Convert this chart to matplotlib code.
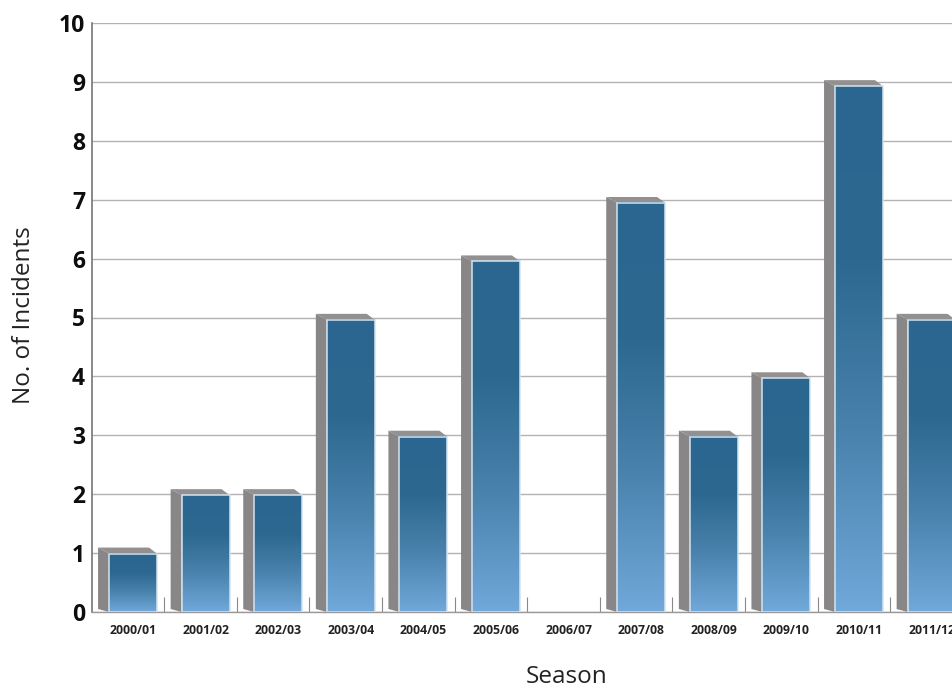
#!/usr/bin/env python3
"""Incidents per season, 3D style bars."""
import matplotlib
matplotlib.use("Agg")
import matplotlib.pyplot as plt
import numpy as np
from matplotlib.colors import LinearSegmentedColormap
from matplotlib.patches import Polygon

seasons = ["2000/01", "2001/02", "2002/03", "2003/04", "2004/05", "2005/06",
           "2006/07", "2007/08", "2008/09", "2009/10", "2010/11", "2011/12"]
incidents = [1, 2, 2, 5, 3, 6, 0, 7, 3, 4, 9, 5]
y_ticks = list(range(11))

plt.rcParams["font.family"] = ["Open Sans", "DejaVu Sans"]

W, H = 953, 689
fig = plt.figure(figsize=(W / 100, H / 100), dpi=100)
ax = fig.add_axes([92 / W, 1 - 612 / H, (W - 92) / W, (612 - 23) / H])

# pixels per data unit, used for the fake depth
px_x = 72.6
px_y = 58.9
dx = 11 / px_x
dy_top = 6 / px_y
dy_bot = 3 / px_y
# the bars in the original sit a little under their gridlines
bar_scale = 0.992

cmap = LinearSegmentedColormap.from_list(
    "bar", ["#2a668f", "#2c6890", "#4a83ad", "#70a9da"])
grad = np.linspace(0, 1, 256).reshape(-1, 1)

x = np.arange(len(seasons))
heights = [v * bar_scale for v in incidents]
bars = ax.bar(x, heights, width=0.66, facecolor="none", edgecolor="#d3e3f0",
              linewidth=1.1, zorder=4)

for rect, v in zip(bars, heights):
    if v == 0:
        continue
    x0, x1 = rect.get_x(), rect.get_x() + rect.get_width()
    ax.add_patch(Polygon([(x0, 0), (x0 - dx, dy_bot), (x0 - dx, v + dy_top), (x0, v)],
                         closed=True, facecolor="#888686", edgecolor="none", zorder=2))
    ax.add_patch(Polygon([(x0, v), (x0 - dx, v + dy_top), (x1 - 0.11, v + dy_top), (x1, v)],
                         closed=True, facecolor="#929090", edgecolor="none", zorder=2))
    ax.imshow(grad, cmap=cmap, extent=(x0, x1, 0, v), aspect="auto", zorder=3)

ax.set_xlim((92 - 133) / px_x, (W - 133) / px_x)
ax.set_ylim(0, 10)

ax.set_yticks(y_ticks)
ax.set_yticklabels([str(t) for t in y_ticks], fontsize=16.5, fontweight="bold", color="#0d0d0d")
ax.tick_params(axis="y", length=0, pad=5)
ax.grid(axis="y", color="#b4b2b2", linewidth=1.0, zorder=1)
ax.set_axisbelow(True)

ax.set_xticks(x)
ax.set_xticklabels(seasons, fontsize=8.8, fontweight="bold", color="#222222")
ax.tick_params(axis="x", which="major", length=0, pad=9)
# separators between the categories
ax.set_xticks(x[:-1] + 0.43, minor=True)
ax.tick_params(axis="x", which="minor", direction="in", length=11, width=0.8, color="#8a8888")

for side in ["top", "right"]:
    ax.spines[side].set_visible(False)
ax.spines["left"].set_color("#777575")
ax.spines["left"].set_linewidth(1.2)
ax.spines["bottom"].set_color("#9a9898")
ax.spines["bottom"].set_linewidth(1.0)

fig.text(24 / W, 1 - 315 / H, "No. of Incidents", rotation=90, fontsize=17.5,
         ha="center", va="center", color="#222222")
fig.text(567 / W, 1 - 677 / H, "Season", fontsize=17.5, ha="center", va="center",
         color="#222222")

fig.savefig("out.png", dpi=100)
plt.close()
